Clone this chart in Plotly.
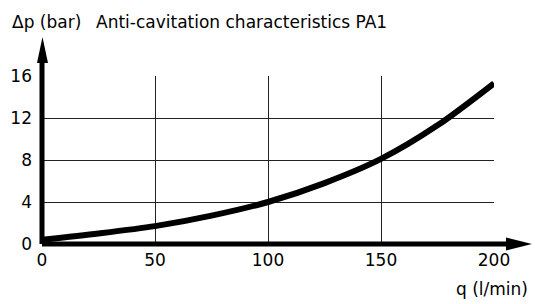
import plotly.graph_objects as go

flow = [0, 25, 50, 75, 100, 125, 150, 175, 200]
dp = [0.4, 1.0, 1.7, 2.7, 4.0, 5.8, 8.1, 11.3, 15.3]
x_ticks = [0, 50, 100, 150, 200]
y_ticks = [0, 4, 8, 12, 16]
y_unit = "Δp (bar)"
title_text = "Anti-cavitation characteristics PA1"
x_label = "q (l/min)"

W, H = 535, 304
L, R, T, B = 41.5, 41, 76, 60
pw = W - L - R
ph = H - T - B

def px(xp):
    return (xp - L) / pw

def py(yp):
    return (H - B - yp) / ph

font = dict(family="DejaVu Sans, Liberation Sans, Arial, sans-serif", size=17, color="#000")

fig = go.Figure()
fig.add_trace(go.Scatter(x=flow, y=dp, mode="lines", line=dict(color="#000", width=6, shape="spline", smoothing=0.8),
                         hoverinfo="skip", showlegend=False, cliponaxis=False))

shapes = []
# axis lines
shapes.append(dict(type="line", xref="paper", yref="paper", x0=0, y0=0, x1=px(512), y1=0,
                   line=dict(color="#000", width=5)))
shapes.append(dict(type="line", xref="paper", yref="paper", x0=0, y0=0, x1=0, y1=py(60),
                   line=dict(color="#000", width=5)))
# arrowheads
shapes.append(dict(type="path", xref="paper", yref="paper",
                   path=f"M {px(532)} {py(244)} L {px(506)} {py(237.5)} L {px(506)} {py(250.5)} Z",
                   fillcolor="#000", line=dict(color="#000", width=0)))
shapes.append(dict(type="path", xref="paper", yref="paper",
                   path=f"M {px(42)} {py(37)} L {px(36.5)} {py(63)} L {px(47.5)} {py(63)} Z",
                   fillcolor="#000", line=dict(color="#000", width=0)))

fig.update_layout(
    width=W, height=H,
    margin=dict(l=L, r=R, t=T, b=B, pad=0, autoexpand=False),
    paper_bgcolor="white", plot_bgcolor="white",
    font=font,
    shapes=shapes,
    xaxis=dict(range=[0, 200], tickvals=x_ticks, ticktext=[str(v) for v in x_ticks],
               showgrid=True, gridcolor="#222", gridwidth=1, zeroline=False, showline=False,
               ticks="", tickfont=font, fixedrange=True, automargin=False, ticklabelstandoff=4),
    yaxis=dict(range=[0, 16], tickvals=y_ticks, ticktext=[str(v) for v in y_ticks],
               showgrid=True, gridcolor="#222", gridwidth=1, zeroline=False, showline=False,
               ticks="", tickfont=font, fixedrange=True, automargin=False, ticklabelstandoff=9),
    annotations=[
        dict(text=y_unit, xref="paper", yref="paper", x=px(9), y=py(22), xanchor="left", yanchor="middle",
             showarrow=False, font=font),
        dict(text=title_text, xref="paper", yref="paper", x=px(94), y=py(22), xanchor="left", yanchor="middle",
             showarrow=False, font=font),
        dict(text=x_label, xref="paper", yref="paper", x=px(530), y=py(289), xanchor="right", yanchor="middle",
             showarrow=False, font=font),
    ],
)

fig.write_html("out.html", config={"displayModeBar": False},
               post_script="document.body.style.margin='0';document.body.style.overflow='hidden';")
